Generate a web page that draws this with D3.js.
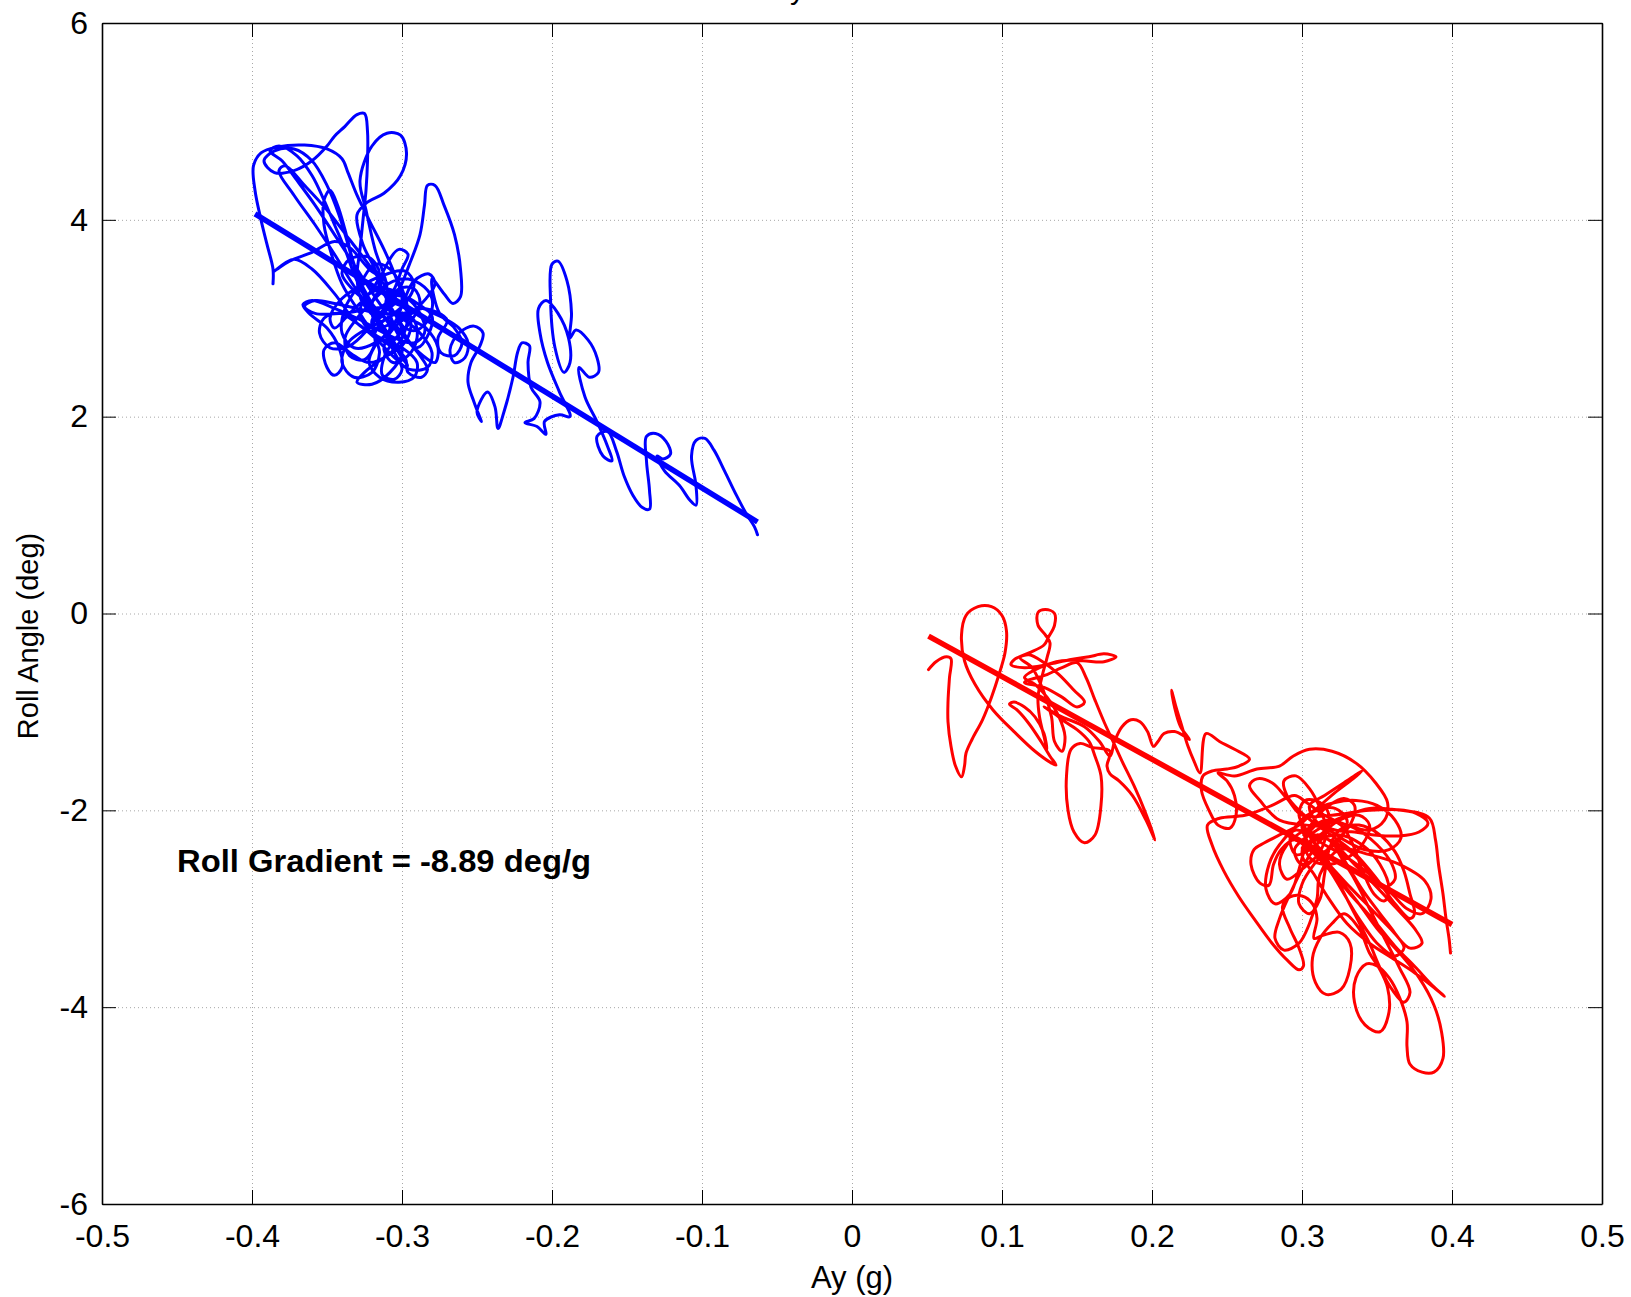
<!DOCTYPE html>
<html>
<head>
<meta charset="utf-8">
<script src="https://cdn.jsdelivr.net/npm/d3@7"></script>
<style>
  html, body { margin: 0; padding: 0; background: #fff; }
  svg { display: block; }
  text { font-family: "Liberation Sans", Arial, Helvetica, sans-serif; fill: #000; }
</style>
</head>
<body>
<svg id="chart" width="1631" height="1297"></svg>
<script>
// ---------------- DATA ----------------
const xTicks = [-0.5, -0.4, -0.3, -0.2, -0.1, 0, 0.1, 0.2, 0.3, 0.4, 0.5];
const xTickLabels = ["-0.5", "-0.4", "-0.3", "-0.2", "-0.1", "0", "0.1", "0.2", "0.3", "0.4", "0.5"];
const yTicks = [-6, -4, -2, 0, 2, 4, 6];
const yTickLabels = ["-6", "-4", "-2", "0", "2", "4", "6"];

const titleText = "Roll vs Ay";
const xLabel = "Ay (g)";
const yLabel = "Roll Angle (deg)";
const annotation = "Roll Gradient = -8.89 deg/g";

// Left-hand cornering trace (Ay [g], roll [deg])
const blueTrace = [
  [-0.386,3.35],[-0.386,3.50],[-0.390,3.75],[-0.394,4.00],[-0.398,4.30],[-0.399,4.55],[-0.394,4.68],[-0.383,4.74],
  [-0.365,4.76],[-0.350,4.72],[-0.340,4.62],[-0.336,4.48],[-0.330,4.25],[-0.322,4.00],[-0.312,3.70],[-0.305,3.45],
  [-0.300,3.20],[-0.305,2.95],[-0.318,2.75],[-0.332,2.70],[-0.340,2.85],[-0.338,3.10],[-0.328,3.35],[-0.318,3.55],
  [-0.308,3.50],[-0.300,3.30],[-0.296,3.05],[-0.300,2.80],[-0.310,2.62],[-0.322,2.55],[-0.332,2.62],[-0.345,2.75],
  [-0.352,2.68],[-0.350,2.50],[-0.345,2.42],[-0.340,2.50],[-0.342,2.70],[-0.350,2.90],[-0.362,3.05],[-0.366,3.14],
  [-0.360,3.18],[-0.345,3.10],[-0.330,3.00],[-0.318,2.90],[-0.305,2.80],[-0.292,2.75],[-0.285,2.85],[-0.288,3.05],
  [-0.298,3.22],[-0.312,3.30],[-0.324,3.22],[-0.328,3.05],[-0.322,2.88],[-0.312,2.78],[-0.300,2.70],[-0.290,2.55],
  [-0.292,2.40],[-0.302,2.35],[-0.315,2.40],[-0.322,2.55],[-0.318,2.72],[-0.308,2.90],[-0.320,3.15],[-0.330,3.45],
  [-0.336,3.75],[-0.342,4.05],[-0.350,4.35],[-0.360,4.60],[-0.372,4.72],[-0.385,4.70],[-0.392,4.60],[-0.385,4.48],
  [-0.372,4.50],[-0.360,4.60],[-0.350,4.75],[-0.345,4.85],[-0.338,4.95],[-0.330,5.07],[-0.325,5.08],[-0.323,4.90],
  [-0.323,4.60],[-0.324,4.30],[-0.326,4.00],[-0.328,3.70],[-0.330,3.40],[-0.326,3.15],[-0.315,3.00],[-0.310,3.30],
  [-0.318,3.70],[-0.324,4.10],[-0.328,4.40],[-0.320,4.75],[-0.310,4.88],[-0.301,4.86],[-0.297,4.68],[-0.301,4.45],
  [-0.312,4.27],[-0.323,4.18],[-0.330,4.05],[-0.326,3.75],[-0.318,3.50],[-0.312,3.25],[-0.305,3.05],[-0.298,2.90],
  [-0.290,2.88],[-0.282,3.00],[-0.280,3.20],[-0.288,3.35],[-0.300,3.40],[-0.312,3.32],[-0.320,3.15],[-0.318,2.98],
  [-0.305,3.20],[-0.295,3.55],[-0.288,3.85],[-0.285,4.15],[-0.283,4.35],[-0.278,4.35],[-0.272,4.15],[-0.265,3.85],
  [-0.261,3.50],[-0.261,3.22],[-0.266,3.15],[-0.272,3.25],[-0.280,3.40],[-0.275,3.05],[-0.265,2.90],[-0.260,2.75],
  [-0.265,2.62],[-0.274,2.65],[-0.276,2.80],[-0.270,2.98],[-0.285,3.10],[-0.300,3.05],[-0.315,3.05],[-0.330,3.10],
  [-0.345,3.15],[-0.358,3.18],[-0.365,3.12],[-0.358,3.05],[-0.340,3.05],[-0.320,3.10],[-0.305,3.15],[-0.320,3.50],
  [-0.335,3.80],[-0.350,4.10],[-0.365,4.35],[-0.378,4.55],[-0.382,4.50],[-0.372,4.25],[-0.358,3.95],[-0.345,3.65],
  [-0.333,3.35],[-0.322,3.10],[-0.312,2.85],[-0.305,2.65],[-0.300,2.48],[-0.305,2.38],[-0.313,2.42],[-0.312,2.60],
  [-0.305,2.78],[-0.295,2.95],[-0.288,3.15],[-0.292,3.30],[-0.302,3.30],[-0.308,3.12],[-0.306,2.95],[-0.298,2.80],
  [-0.288,2.62],[-0.283,2.48],[-0.287,2.40],[-0.296,2.45],[-0.298,2.60],[-0.330,2.95],[-0.345,3.25],[-0.360,3.50],
  [-0.372,3.60],[-0.385,3.48],[-0.375,3.58],[-0.360,3.67],[-0.345,3.78],[-0.335,3.72],[-0.322,3.50],[-0.310,3.35],
  [-0.318,3.20],[-0.330,3.00],[-0.338,2.80],[-0.335,2.62],[-0.325,2.58],[-0.318,2.75],[-0.320,2.98],[-0.310,3.15],
  [-0.298,3.10],[-0.294,2.92],[-0.300,2.72],[-0.312,2.60],[-0.325,2.45],[-0.330,2.35],[-0.320,2.33],[-0.308,2.45],
  [-0.300,2.65],[-0.305,2.90],[-0.318,3.10],[-0.332,3.28],[-0.340,3.45],[-0.335,3.60],[-0.322,3.62],[-0.315,3.45],
  [-0.322,3.25],[-0.335,3.05],[-0.345,2.90],[-0.348,3.00],[-0.340,3.20],[-0.325,3.35],[-0.310,3.45],[-0.298,3.48],
  [-0.292,3.35],[-0.298,3.15],[-0.312,2.98],[-0.325,2.88],[-0.336,2.75],[-0.340,2.55],[-0.332,2.40],[-0.320,2.45],
  [-0.315,2.65],[-0.318,2.85],[-0.310,3.00],[-0.300,3.05],[-0.292,2.98],[-0.290,2.80],[-0.296,2.62],[-0.306,2.55],
  [-0.312,2.68],[-0.308,2.85],[-0.298,3.00],[-0.286,3.10],[-0.280,3.02],[-0.282,2.85],[-0.290,2.70],[-0.300,2.85],
  [-0.315,3.15],[-0.330,3.50],[-0.345,3.85],[-0.358,4.15],[-0.370,4.40],[-0.380,4.60],[-0.388,4.70],[-0.382,4.75],
  [-0.370,4.65],[-0.360,4.45],[-0.352,4.20],[-0.345,3.95],[-0.338,3.70],[-0.332,3.45],[-0.326,3.25],[-0.318,3.05],
  [-0.308,2.80],[-0.300,2.60],[-0.296,2.52],[-0.305,2.75],[-0.316,3.00],[-0.326,3.30],[-0.333,3.60],[-0.338,3.90],
  [-0.343,4.15],[-0.348,4.30],[-0.352,4.20],[-0.352,3.95],[-0.347,3.65],[-0.340,3.35],[-0.330,3.10],[-0.320,2.90],
  [-0.306,2.95],[-0.294,3.05],[-0.284,3.20],[-0.278,3.35],[-0.282,3.45],[-0.292,3.38],[-0.298,3.20],[-0.302,3.00],
  [-0.296,2.78],[-0.286,2.62],[-0.278,2.55],[-0.276,2.70],[-0.284,2.90],[-0.296,3.00],[-0.310,3.10],
  [-0.300,3.00],[-0.288,2.85],[-0.280,2.65],[-0.283,2.50],[-0.295,2.48],[-0.305,2.60],[-0.318,2.80],[-0.330,2.95],
  [-0.342,3.05],[-0.352,3.00],[-0.355,2.85],[-0.348,2.70],[-0.335,2.72],[-0.322,2.90],[-0.312,3.10],[-0.305,3.30],
  [-0.300,3.50],[-0.296,3.65],[-0.302,3.70],[-0.310,3.55],[-0.315,3.30],
  [-0.295,3.20],[-0.283,3.08],[-0.272,3.00],[-0.262,2.90],[-0.256,2.75],[-0.258,2.60],[-0.265,2.55],[-0.268,2.68],
  [-0.262,2.85],[-0.252,2.92],[-0.246,2.85],[-0.248,2.72],[-0.254,2.55],[-0.256,2.35],[-0.252,2.15],[-0.247,1.95],
  [-0.250,2.05],[-0.243,2.25],[-0.238,2.10],[-0.236,1.88],[-0.232,2.05],[-0.226,2.40],[-0.223,2.65],[-0.220,2.75],
  [-0.215,2.72],[-0.216,2.55],[-0.214,2.30],[-0.208,2.15],[-0.212,1.98],[-0.218,1.94],[-0.210,1.90],[-0.204,1.82],
  [-0.205,1.95],[-0.195,2.02],[-0.188,2.00],[-0.195,2.25],[-0.203,2.55],[-0.208,2.85],[-0.209,3.10],[-0.204,3.18],
  [-0.196,3.05],[-0.189,2.80],[-0.188,2.55],[-0.192,2.45],[-0.198,2.70],[-0.201,3.20],[-0.200,3.55],[-0.196,3.58],
  [-0.190,3.38],[-0.187,3.05],[-0.188,2.80],[-0.184,2.88],[-0.176,2.78],[-0.170,2.60],[-0.169,2.45],[-0.175,2.40],
  [-0.182,2.50],[-0.178,2.20],[-0.170,1.95],[-0.163,1.70],[-0.160,1.55],[-0.166,1.60],[-0.170,1.80],[-0.163,1.85],
  [-0.157,1.65],[-0.152,1.40],[-0.146,1.20],[-0.140,1.08],[-0.135,1.06],[-0.135,1.25],[-0.137,1.55],[-0.137,1.80],
  [-0.131,1.83],[-0.124,1.75],[-0.121,1.62],[-0.126,1.57],[-0.130,1.60],[-0.125,1.45],[-0.115,1.30],[-0.108,1.15],
  [-0.104,1.10],[-0.104,1.30],[-0.107,1.60],[-0.104,1.76],[-0.098,1.78],[-0.092,1.66],[-0.085,1.45],[-0.077,1.20],
  [-0.070,1.00],[-0.065,0.88],[-0.063,0.80]
];

// Right-hand cornering trace (Ay [g], roll [deg])
const redTrace = [
  [0.051,-0.57],[0.056,-0.49],[0.063,-0.44],[0.066,-0.46],[0.065,-0.65],[0.064,-0.90],[0.064,-1.10],[0.066,-1.35],
  [0.069,-1.55],[0.073,-1.66],[0.075,-1.55],[0.076,-1.42],[0.080,-1.28],[0.087,-1.08],[0.093,-0.85],[0.098,-0.62],
  [0.102,-0.40],[0.103,-0.18],[0.100,-0.02],[0.093,0.07],[0.084,0.07],[0.076,-0.02],[0.073,-0.22],[0.075,-0.48],
  [0.082,-0.72],[0.094,-0.98],[0.108,-1.20],[0.122,-1.40],[0.133,-1.52],[0.136,-1.54],[0.132,-1.45],[0.126,-1.30],
  [0.118,-1.12],[0.110,-0.98],[0.105,-0.92],[0.108,-0.90],[0.115,-0.95],[0.122,-1.05],[0.128,-1.22],[0.130,-1.38],
  [0.128,-1.25],[0.125,-1.05],[0.124,-0.85],[0.127,-0.62],[0.130,-0.45],[0.132,-0.30],[0.129,-0.22],[0.124,-0.12],
  [0.124,0.01],[0.129,0.04],[0.135,0.00],[0.135,-0.12],[0.131,-0.24],[0.128,-0.32],[0.118,-0.40],[0.108,-0.47],
  [0.106,-0.52],[0.115,-0.55],[0.130,-0.52],[0.145,-0.47],[0.158,-0.44],[0.168,-0.41],[0.176,-0.44],[0.168,-0.49],
  [0.154,-0.48],[0.140,-0.48],[0.125,-0.55],[0.115,-0.65],[0.122,-0.72],
  [0.130,-0.85],[0.138,-1.05],[0.142,-1.25],[0.140,-1.40],[0.135,-1.30],[0.133,-1.05],[0.128,-0.80],[0.120,-0.55],
  [0.112,-0.45],[0.118,-0.42],[0.128,-0.50],[0.138,-0.62],[0.148,-0.78],[0.155,-0.90],[0.150,-0.95],[0.140,-0.85],
  [0.128,-0.75],[0.115,-0.70],
  [0.130,-0.62],[0.140,-0.55],[0.150,-0.50],
  [0.156,-0.65],[0.162,-0.88],[0.168,-1.10],[0.174,-1.30],[0.180,-1.50],[0.188,-1.75],[0.195,-2.00],[0.202,-2.30],
  [0.196,-2.10],[0.187,-1.85],[0.178,-1.70],[0.172,-1.63],[0.170,-1.55],[0.172,-1.40],[0.160,-1.36],[0.152,-1.32],
  [0.146,-1.38],[0.143,-1.65],[0.144,-2.00],[0.148,-2.22],[0.155,-2.33],[0.162,-2.25],[0.166,-1.95],[0.166,-1.65],
  [0.162,-1.45],[0.158,-1.30],[0.150,-1.18],[0.142,-1.10],[0.135,-1.02],[0.128,-0.95],[0.140,-1.05],[0.155,-1.15],
  [0.165,-1.30],[0.172,-1.45],[0.175,-1.30],[0.180,-1.15],[0.186,-1.08],[0.192,-1.10],[0.197,-1.20],[0.201,-1.35],
  [0.204,-1.30],[0.208,-1.22],[0.215,-1.20],[0.222,-1.25],[0.225,-1.28],[0.219,-1.15],[0.215,-0.95],[0.213,-0.78],
  [0.216,-0.95],[0.220,-1.15],[0.224,-1.35],[0.228,-1.50],[0.232,-1.62],[0.236,-1.22],[0.245,-1.30],[0.255,-1.38],
  [0.265,-1.48],[0.258,-1.55],[0.250,-1.58],[0.240,-1.60],[0.234,-1.65],[0.233,-1.80],[0.238,-2.00],[0.244,-2.15],
  [0.252,-2.18],[0.256,-2.05],[0.255,-1.85],[0.250,-1.70],[0.244,-1.62],[0.255,-1.65],[0.270,-1.58],[0.285,-1.55],
  [0.294,-1.45],[0.305,-1.38],[0.320,-1.40],[0.336,-1.52],[0.349,-1.72],[0.357,-1.92],[0.355,-2.10],[0.345,-2.20],
  [0.330,-2.15],[0.315,-2.05],[0.303,-1.92],[0.295,-1.85],[0.280,-1.95],[0.262,-2.05],[0.245,-2.08],[0.237,-2.15],
  [0.240,-2.35],[0.248,-2.62],[0.258,-2.88],[0.268,-3.10],[0.280,-3.35],[0.290,-3.52],[0.298,-3.62],[0.301,-3.58],
  [0.298,-3.40],[0.292,-3.20],[0.287,-2.98],[0.292,-2.88],[0.300,-2.87],[0.307,-2.95],[0.310,-3.10],[0.308,-3.30],
  [0.314,-3.27],[0.325,-3.24],[0.332,-3.35],[0.332,-3.60],[0.326,-3.82],[0.316,-3.87],[0.309,-3.75],[0.307,-3.50],
  [0.312,-3.30],[0.320,-3.15],[0.328,-3.05],[0.338,-3.20],[0.345,-3.45],[0.352,-3.62],[0.357,-3.80],[0.358,-4.05],
  [0.352,-4.25],[0.342,-4.18],[0.335,-3.95],[0.336,-3.70],[0.343,-3.56],[0.350,-3.58],[0.358,-3.70],[0.365,-3.90],
  [0.370,-4.15],[0.370,-4.40],[0.372,-4.58],[0.380,-4.66],[0.388,-4.66],[0.394,-4.52],[0.393,-4.25],[0.388,-3.98],
  [0.378,-3.70],[0.365,-3.45],[0.350,-3.20],[0.338,-2.95],[0.325,-2.70],[0.313,-2.45],[0.305,-2.25],[0.298,-2.05],
  [0.302,-1.90],[0.312,-1.92],[0.318,-2.05],[0.315,-2.25],[0.305,-2.40],[0.296,-2.45],[0.292,-2.30],[0.298,-2.12],
  [0.310,-2.00],[0.322,-1.98],[0.330,-2.10],[0.325,-2.30],[0.312,-2.45],[0.300,-2.55],[0.295,-2.40],[0.310,-2.20],
  [0.330,-2.05],[0.345,-1.98],[0.360,-1.99],[0.376,-2.03],[0.384,-2.13],[0.378,-2.22],[0.365,-2.26],[0.348,-2.25],
  [0.335,-2.22],[0.322,-2.20],[0.310,-2.12],[0.305,-1.95],[0.315,-1.85],[0.328,-1.72],[0.340,-1.60],[0.334,-1.68],
  [0.322,-1.82],[0.310,-1.98],[0.298,-2.15],[0.285,-2.25],[0.275,-2.33],[0.268,-2.40],[0.266,-2.55],[0.272,-2.74],
  [0.278,-2.76],[0.281,-2.55],[0.286,-2.40],[0.295,-2.30],[0.305,-2.40],[0.318,-2.60],[0.332,-2.85],[0.348,-3.12],
  [0.362,-3.38],[0.376,-3.60],[0.387,-3.78],[0.395,-3.89],[0.388,-3.80],[0.375,-3.65],[0.360,-3.50],[0.345,-3.35],
  [0.330,-3.15],[0.318,-2.90],[0.308,-2.65],[0.300,-2.45],[0.306,-2.20],[0.316,-2.10],[0.326,-2.15],[0.334,-2.35],
  [0.340,-2.60],[0.348,-2.85],[0.355,-2.92],[0.358,-2.80],[0.352,-2.55],[0.340,-2.35],[0.325,-2.25],[0.310,-2.30],
  [0.300,-2.38],
  [0.312,-2.25],[0.325,-2.10],[0.338,-2.05],[0.345,-2.15],[0.340,-2.35],[0.328,-2.50],[0.315,-2.55],[0.305,-2.48],
  [0.302,-2.30],[0.308,-2.10],[0.318,-1.95],[0.328,-1.88],[0.335,-1.95],[0.332,-2.15],[0.320,-2.35],[0.308,-2.55],
  [0.300,-2.75],[0.298,-2.95],[0.305,-3.05],[0.312,-2.90],[0.315,-2.65],[0.318,-2.40],[0.325,-2.20],[0.338,-2.15],
  [0.352,-2.25],[0.362,-2.42],[0.368,-2.62],[0.372,-2.85],[0.375,-3.05],[0.372,-3.10],[0.362,-2.95],[0.350,-2.70],
  [0.336,-2.45],[0.322,-2.28],[0.310,-2.15],[0.298,-2.00],[0.290,-1.85],[0.288,-1.70],[0.296,-1.65],[0.305,-1.78],
  [0.312,-1.98],[0.316,-2.20],[0.312,-2.42],[0.300,-2.60],[0.290,-2.70],[0.285,-2.55],[0.290,-2.35],[0.302,-2.20],
  [0.318,-2.12],[0.335,-2.18],[0.350,-2.35],[0.360,-2.55],[0.362,-2.70],[0.355,-2.78],[0.345,-2.62],[0.332,-2.42],
  [0.318,-2.30],[0.305,-2.25],
  [0.315,-2.45],[0.325,-2.75],[0.335,-3.05],[0.345,-3.35],[0.352,-3.60],[0.360,-3.82],[0.368,-3.95],[0.372,-3.85],
  [0.365,-3.60],[0.355,-3.30],[0.345,-3.00],[0.335,-2.70],[0.325,-2.45],[0.320,-2.30],[0.328,-2.50],[0.340,-2.80],
  [0.352,-3.05],[0.362,-3.25],[0.368,-3.40],[0.362,-3.48],[0.350,-3.35],[0.338,-3.10],[0.328,-2.85],[0.318,-2.60],
  [0.308,-2.42],[0.300,-2.60],[0.292,-2.85],[0.285,-3.10],[0.282,-3.30],[0.288,-3.42],[0.298,-3.35],[0.305,-3.15],
  [0.310,-2.90],[0.312,-2.65],[0.325,-2.40],[0.345,-2.45],[0.365,-2.55],[0.382,-2.72],[0.386,-2.90],[0.380,-3.05],
  [0.370,-3.00],[0.360,-2.85],[0.345,-2.65],[0.330,-2.48],[0.315,-2.35],
  [0.296,-2.20],[0.285,-2.35],[0.278,-2.55],[0.276,-2.80],[0.282,-2.95],[0.292,-2.85],[0.298,-2.60],[0.302,-2.40],
  [0.310,-2.25],[0.322,-2.35],[0.335,-2.55],[0.348,-2.75],[0.362,-2.98],[0.375,-3.20],[0.380,-3.35],[0.372,-3.40],
  [0.360,-3.22],[0.346,-3.00],[0.332,-2.78],[0.318,-2.55],[0.305,-2.35],[0.300,-2.15],[0.308,-2.00],[0.322,-1.92],
  [0.336,-1.90],[0.350,-1.95],[0.362,-2.10],[0.366,-2.28],[0.358,-2.40],[0.342,-2.40],[0.328,-2.30],[0.315,-2.18],
  [0.285,-2.10],[0.272,-1.90],[0.265,-1.75],[0.270,-1.68],[0.280,-1.72],[0.290,-1.88],[0.300,-2.05],
  [0.320,-2.05],[0.345,-2.00],[0.368,-2.00],[0.385,-2.08],[0.389,-2.30],[0.391,-2.55],[0.394,-2.85],[0.396,-3.10],
  [0.398,-3.30],[0.399,-3.45]
];

// Linear fits (end points)
const blueFit = [[-0.398, 4.06], [-0.063, 0.93]];
const redFit = [[0.051, -0.23], [0.400, -3.16]];

// ---------------- LAYOUT ----------------
const plot = { left: 102, right: 1602, top: 23, bottom: 1204 };

const svg = d3.select("#chart");
const x = d3.scaleLinear().domain([-0.5, 0.5]).range([plot.left, plot.right]);
const y = d3.scaleLinear().domain([-6, 6]).range([plot.bottom, plot.top]);

// Title (mostly above the visible area, as in the reference)
svg.append("text")
  .attr("x", 805).attr("y", -1)
  .attr("text-anchor", "end")
  .attr("font-size", 30)
  .text(titleText);

// Grid
const gridG = svg.append("g");
gridG.append("g").attr("transform", `translate(0,${plot.bottom})`)
  .call(d3.axisBottom(x).tickValues(xTicks).tickSize(-(plot.bottom - plot.top)).tickFormat(""))
  .call(g => g.select(".domain").remove());
gridG.append("g").attr("transform", `translate(${plot.left},0)`)
  .call(d3.axisLeft(y).tickValues(yTicks).tickSize(-(plot.right - plot.left)).tickFormat(""))
  .call(g => g.select(".domain").remove());
gridG.selectAll("line")
  .attr("stroke", "#a8a8a8").attr("stroke-width", 1).attr("stroke-dasharray", "1,3");

// Traces
const line = d3.line().x(d => x(d[0])).y(d => y(d[1])).curve(d3.curveCatmullRom.alpha(0.5));
const straight = d3.line().x(d => x(d[0])).y(d => y(d[1]));

svg.append("clipPath").attr("id", "clip").append("rect")
  .attr("x", plot.left).attr("y", plot.top)
  .attr("width", plot.right - plot.left).attr("height", plot.bottom - plot.top);
const dataG = svg.append("g").attr("clip-path", "url(#clip)");

dataG.append("path").datum(blueTrace).attr("d", line)
  .attr("fill", "none").attr("stroke", "#0000ff").attr("stroke-width", 3)
  .attr("stroke-linejoin", "round").attr("stroke-linecap", "round");
dataG.append("path").datum(redTrace).attr("d", line)
  .attr("fill", "none").attr("stroke", "#ff0000").attr("stroke-width", 3)
  .attr("stroke-linejoin", "round").attr("stroke-linecap", "round");
dataG.append("path").datum(blueFit).attr("d", straight)
  .attr("fill", "none").attr("stroke", "#0000ff").attr("stroke-width", 5.5);
dataG.append("path").datum(redFit).attr("d", straight)
  .attr("fill", "none").attr("stroke", "#ff0000").attr("stroke-width", 5.5);

// Axes (ticks inward on all four sides)
const tickLen = 14;
const axB = svg.append("g").attr("transform", `translate(0,${plot.bottom})`)
  .call(d3.axisBottom(x).tickValues(xTicks).tickFormat((d, i) => xTickLabels[i])
    .tickSizeInner(-tickLen).tickSizeOuter(0).tickPadding(20));
const axT = svg.append("g").attr("transform", `translate(0,${plot.top})`)
  .call(d3.axisTop(x).tickValues(xTicks).tickFormat("").tickSizeInner(-tickLen).tickSizeOuter(0));
const axL = svg.append("g").attr("transform", `translate(${plot.left},0)`)
  .call(d3.axisLeft(y).tickValues(yTicks).tickFormat((d, i) => yTickLabels[i])
    .tickSizeInner(-tickLen).tickSizeOuter(0).tickPadding(14));
const axR = svg.append("g").attr("transform", `translate(${plot.right},0)`)
  .call(d3.axisRight(y).tickValues(yTicks).tickFormat("").tickSizeInner(-tickLen).tickSizeOuter(0));

[axB, axT, axL, axR].forEach(a => {
  a.select(".domain").attr("stroke", "#000").attr("stroke-width", 1.6);
  a.selectAll(".tick line").attr("stroke", "#000").attr("stroke-width", 1);
  a.selectAll("text").attr("font-size", 32)
    .attr("font-family", "'Liberation Sans', Arial, sans-serif").attr("fill", "#000");
});

// Axis labels
svg.append("text")
  .attr("x", (plot.left + plot.right) / 2).attr("y", 1288)
  .attr("text-anchor", "middle").attr("font-size", 31)
  .text(xLabel);
svg.append("text")
  .attr("transform", `translate(38,636) rotate(-90)`)
  .attr("text-anchor", "middle").attr("font-size", 29)
  .text(yLabel);

// Annotation
svg.append("text")
  .attr("x", 177).attr("y", 872)
  .attr("font-size", 32).attr("font-weight", "bold")
  .attr("textLength", 414).attr("lengthAdjust", "spacingAndGlyphs")
  .text(annotation);
</script>
</body>
</html>
